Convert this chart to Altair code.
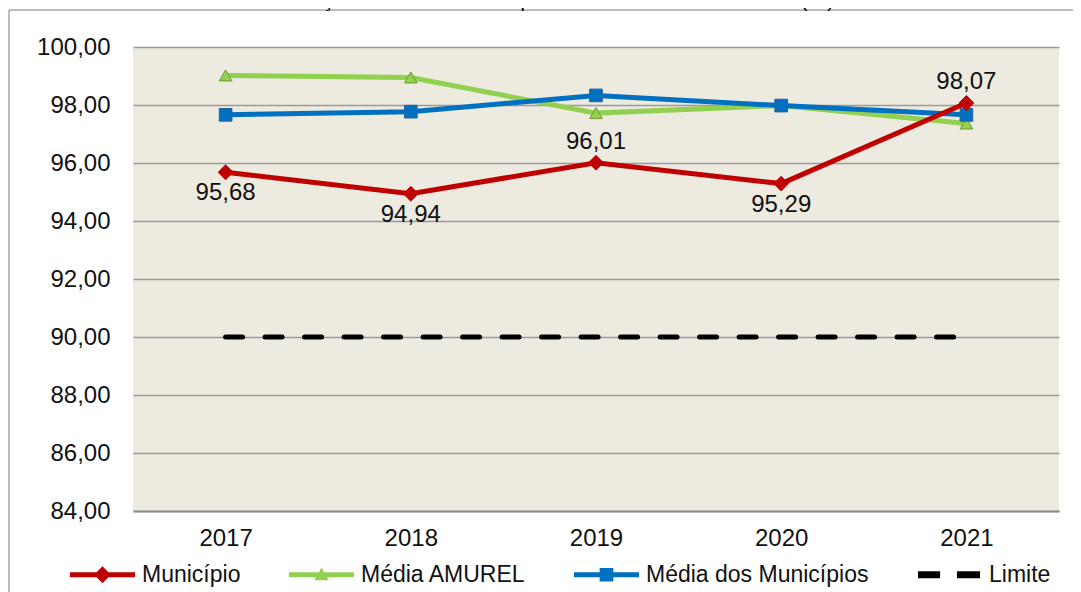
import altair as alt
import pandas as pd

years = ["2017", "2018", "2019", "2020", "2021"]
municipio = [95.68, 94.94, 96.01, 95.29, 98.07]
media_amurel = [99.02, 98.95, 97.72, 97.98, 97.36]
media_municipios = [97.66, 97.77, 98.33, 97.98, 97.66]
limite = [90.0, 90.0, 90.0, 90.0, 90.0]
series_names = ["Município", "Média AMUREL", "Média dos Municípios", "Limite"]
series_colors = ["#C00000", "#92D050", "#0070C0", "#000000"]
marker_shapes = ["diamond", "triangle-up", "square"]
marker_strokes = ["#C00000", "#6F9A2E", "#2A5F9E"]
labels_above = ["2019", "2021"]
y_ticks = [84, 86, 88, 90, 92, 94, 96, 98, 100]
title_text = "Gráfico 13 – Evolução Histórica e Comparativa – 90% do FUNDEB (%): 2017 – 2021"

FONT = "Liberation Sans"

series_values = [municipio, media_amurel, media_municipios, limite]
rows = []
for name, vals in zip(series_names, series_values):
    for yr, v in zip(years, vals):
        rows.append({"ano": yr, "valor": v, "serie": name,
                     "rotulo": f"{v:.2f}".replace(".", ",")})
df = pd.DataFrame(rows)

x_enc = alt.X("ano:N", sort=years,
              scale=alt.Scale(type="point", padding=0.5),
              axis=alt.Axis(title=None, labelAngle=0, ticks=False, labelFontSize=24,
                            labelFont=FONT, labelColor="#111", labelPadding=15,
                            domainColor="#8C8C8C", domainWidth=2, grid=False))
y_enc = alt.Y("valor:Q",
              scale=alt.Scale(domain=[84, 100], nice=False, zero=False),
              axis=alt.Axis(title=None, values=y_ticks, ticks=False, domain=False,
                            labelFontSize=24, labelFont=FONT, labelColor="#111",
                            labelPadding=23, gridColor="#9A9A9A", gridWidth=1.5,
                            labelExpr="replace(format(datum.value, '.2f'), '.', ',')"))

base = alt.Chart(df).encode(x=x_enc, y=y_enc)

one = pd.DataFrame({"a": [0]})
frame_left = alt.Chart(one).mark_rule(color="#A6A6A6", strokeWidth=1.5).encode(
    x=alt.value(-124), y=alt.value(-37), y2=alt.value(700))
frame_top = alt.Chart(one).mark_rule(color="#A6A6A6", strokeWidth=1.5).encode(
    x=alt.value(-124), x2=alt.value(1100), y=alt.value(-37))

title = alt.Chart(pd.DataFrame({"t": [title_text]})).mark_text(
    fontSize=22, font=FONT, color="#111", baseline="alphabetic"
).encode(x=alt.value(422), y=alt.value(-41), text="t:N")

lim = base.transform_filter(alt.datum.serie == "Limite").mark_line(
    color="#000000", strokeWidth=5, strokeDash=[17, 22.5], strokeCap="round")

layers = [frame_left, frame_top, title, lim]
order = [1, 2, 0]
for i in order:
    name = series_names[i]
    sub = base.transform_filter(alt.datum.serie == name)
    layers.append(sub.mark_line(color=series_colors[i], strokeWidth=5))
for i in order:
    name = series_names[i]
    sub = base.transform_filter(alt.datum.serie == name)
    layers.append(sub.mark_point(filled=True, opacity=1, shape=marker_shapes[i],
                                 size=220 if i == 0 else 160,
                                 color=series_colors[i], stroke=marker_strokes[i],
                                 strokeWidth=1))

mun = base.transform_filter(alt.datum.serie == "Município")
above = mun.transform_filter(alt.FieldOneOfPredicate(field="ano", oneOf=labels_above)).mark_text(
    fontSize=24, font=FONT, color="#111", dy=-21).encode(text="rotulo:N")
below = mun.transform_filter(~alt.FieldOneOfPredicate(field="ano", oneOf=labels_above)).mark_text(
    fontSize=24, font=FONT, color="#111", dy=21).encode(text="rotulo:N")
layers += [above, below]

legend_paths = [
    "M-1,-0.08H1V0.08H-1Z M0,-0.26L0.26,0L0,0.26L-0.26,0Z",
    "M-1,-0.08H1V0.08H-1Z M0,-0.22L0.22,0.17L-0.22,0.17Z",
    "M-1,-0.08H1V0.08H-1Z M-0.21,-0.21H0.21V0.21H-0.21Z",
    "M-0.97,-0.11H-0.29V0.11H-0.97Z M0.23,-0.11H0.94V0.11H0.23Z",
]
leg = alt.Legend(orient="none", legendX=-63, legendY=495, direction="horizontal",
                 columns=4, symbolSize=4225, labelFontSize=23, labelFont=FONT,
                 labelColor="#111", labelOffset=7, columnPadding=48, title=None,
                 labelLimit=400, symbolStrokeWidth=0)
legend_layer = base.mark_point(filled=True, size=0, opacity=1).encode(
    color=alt.Color("serie:N", scale=alt.Scale(domain=series_names, range=series_colors), legend=leg),
    shape=alt.Shape("serie:N", scale=alt.Scale(domain=series_names, range=legend_paths), legend=leg),
)
layers.append(legend_layer)

chart = alt.layer(*layers).properties(
    width=926, height=464,
    padding={"left": 125, "top": 39, "right": 14, "bottom": 81},
    autosize=alt.AutoSizeParams(type="none"),
    background="white",
).configure_view(fill="#EDEAE0", strokeWidth=0)

chart.save("out.html", embed_options={"renderer": "svg", "actions": False})
